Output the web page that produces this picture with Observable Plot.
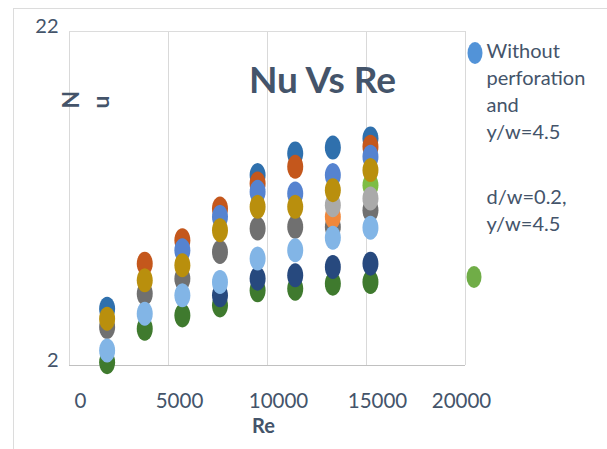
<!DOCTYPE html>
<html>
<head>
<meta charset="utf-8">
<script src="https://cdn.jsdelivr.net/npm/d3@7"></script>
<script src="https://cdn.jsdelivr.net/npm/@observablehq/plot@0.6"></script>
<style>
  html, body { margin: 0; padding: 0; background: #fff; }
  #wrap { position: relative; width: 607px; height: 449px; overflow: hidden; }
  #frame { position: absolute; left: 13px; top: 8px; right: -2px; bottom: -2px;
           border-top: 1px solid #dcdcdc; border-left: 1px solid #dcdcdc; pointer-events: none; }
</style>
</head>
<body>
<div id="wrap"><div id="frame"></div></div>
<script>
// ---- data ----
const Re = [1900, 3800, 5700, 7600, 9500, 11400, 13300, 15200];

const darkGreen    = [2.2, 4.2, 5.0, 5.6, 6.5, 6.6, 6.9, 7.0];
const navy         = [null, null, null, 6.2, 7.2, 7.4, 7.9, 8.1];
const darkGrey     = [4.3, 6.3, 7.2, 8.8, 10.2, 10.3, 10.3, 11.3];
const brightOrange = [null, null, null, null, null, null, 10.9, null];
const lightGreen   = [null, null, null, null, null, null, null, 12.8];
const lightGrey    = [null, null, null, null, null, null, 11.6, 12.0];
const lightBlue    = [2.9, 5.1, 6.2, 7.0, 8.4, 8.9, 9.65, 10.25];
const steel        = [5.4, null, null, null, 13.4, 14.7, 15.05, 15.6];
const darkOrange   = [null, 8.1, 9.5, 11.4, 12.9, 13.9, null, 15.1];
const blue         = [null, null, 8.9, 10.9, 12.4, 12.3, 13.4, 14.5];
const gold         = [4.8, 7.1, 8.0, 10.1, 11.5, 11.5, 12.5, 13.7];

const seriesNames = ["darkGreen","navy","darkGrey","brightOrange","lightGreen","lightGrey","lightBlue","steel","darkOrange","blue","gold"];
const seriesValues = [darkGreen, navy, darkGrey, brightOrange, lightGreen, lightGrey, lightBlue, steel, darkOrange, blue, gold];
const seriesColors = ["#3f7a2e","#27497e","#707070","#f0883c","#7dbd44","#aaaaaa","#82b5e6","#2f70ad","#c4571c","#5583d0","#b98f0d"];

const xTicks = [0, 5000, 10000, 15000];
const xTicksEnd = [20000];
const yTicks = [2, 22];
const titleText = "Nu Vs Re";
const xLabel = "Re";
const yLabelLetters = ["N", "u"];
const legendGroup1 = ["Without", "perforation", "and", "y/w=4.5"];
const legendGroup2 = ["d/w=0.2,", "y/w=4.5"];
const legendColors = ["#5293d8", "#70ad47"];

// ---- table ----
const table = [];
seriesNames.forEach((name, s) => {
  seriesValues[s].forEach((v, i) => {
    if (v != null) table.push({Re: Re[i], Nu: v, series: name});
  });
});

// elongated marker (like the stretched Excel markers)
const ellipseSymbol = {
  draw(ctx, size) {
    const r = Math.sqrt(size / Math.PI);
    const rx = r, ry = r * 1.5, n = 28;
    for (let k = 0; k < n; k++) {
      const a = (k / n) * 2 * Math.PI;
      const px = rx * Math.cos(a), py = ry * Math.sin(a);
      if (k === 0) ctx.moveTo(px, py); else ctx.lineTo(px, py);
    }
    ctx.closePath();
  }
};

const textColor = "#44546a";
const font = "Lato, 'Open Sans', sans-serif";
const fmt = d => String(d);

const plot = Plot.plot({
  width: 607,
  height: 449,
  marginLeft: 69,
  marginRight: 142,
  marginTop: 31,
  marginBottom: 84,
  style: { fontFamily: font, background: "transparent", overflow: "visible" },
  x: { domain: [0, 20000] },
  y: { domain: [2, 22] },
  color: { domain: seriesNames, range: seriesColors },
  marks: [
    Plot.ruleX([...xTicks, ...xTicksEnd], { stroke: "#d9d9d9", strokeWidth: 1 }),
    Plot.ruleY([22], { stroke: "#dcdcdc", strokeWidth: 1 }),
    Plot.ruleY([2], { stroke: "#c0c0c0", strokeWidth: 1 }),
    Plot.axisX(xTicks, { tickSize: 0, tickPadding: 28, dx: 11, fontSize: 20.5, fill: textColor, label: null, tickFormat: fmt }),
    Plot.axisX(xTicksEnd, { tickSize: 0, tickPadding: 28, dx: -4, fontSize: 20.5, fill: textColor, label: null, tickFormat: fmt }),
    Plot.axisY(yTicks, { tickSize: 0, tickPadding: 11, dy: -4.5, fontSize: 20, fill: textColor, label: null, tickFormat: fmt }),
    Plot.text([xLabel], { frameAnchor: "bottom", dx: -4, dy: 67, lineAnchor: "bottom", fontSize: 20, fontWeight: "bold", fill: textColor }),
    Plot.text([titleText], { frameAnchor: "top", dx: 55, dy: 61, lineAnchor: "bottom", fontSize: 37, fontWeight: "bold", fill: textColor }),
    ...yLabelLetters.map((t, i) => Plot.text([t], {
      frameAnchor: "top-left", dx: 2 + i * 30, dy: 77, rotate: -90,
      fontSize: 23, fontWeight: "bold", fill: textColor, lineAnchor: "middle"
    })),
    ...legendGroup1.map((t, i) => Plot.text([t], {
      frameAnchor: "top-right", dx: 21, dy: 26 + i * 27, textAnchor: "start", lineAnchor: "bottom",
      fontSize: 20, fill: textColor
    })),
    ...legendGroup2.map((t, i) => Plot.text([t], {
      frameAnchor: "top-right", dx: 21, dy: 172 + i * 27, textAnchor: "start", lineAnchor: "bottom",
      fontSize: 20, fill: textColor
    })),
    Plot.dot(table, { x: "Re", y: "Nu", fill: "series", r: 8, symbol: ellipseSymbol })
  ]
});

// legend markers
const svg = d3.select(plot);
const legendPos = [[475, 53], [474, 277]];
legendPos.forEach(([cx, cy], i) => {
  svg.append("ellipse").attr("cx", cx).attr("cy", cy).attr("rx", 7.5).attr("ry", 11).attr("fill", legendColors[i]);
});

document.getElementById("wrap").appendChild(plot);
</script>
</body>
</html>
